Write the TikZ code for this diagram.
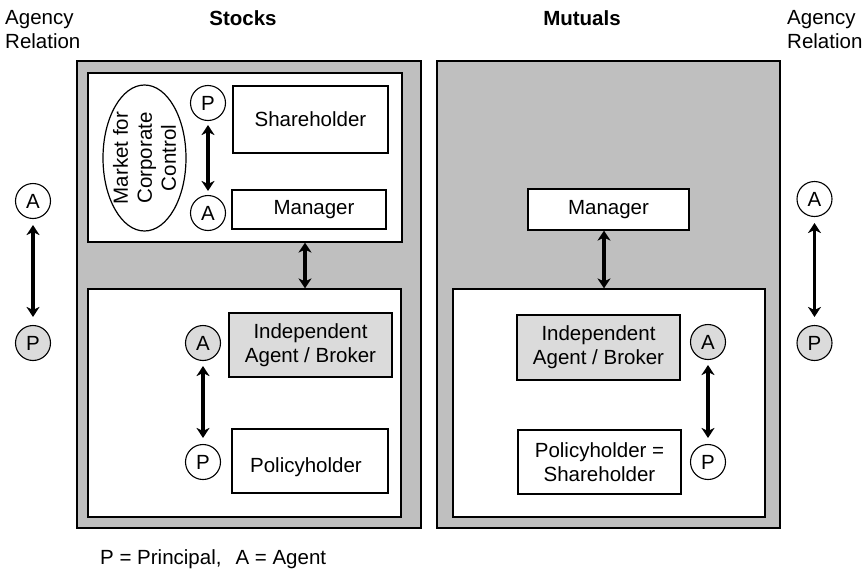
\documentclass[tikz,border=0pt]{standalone}
\usepackage{fontspec}
\setmainfont{Liberation Sans}
\usetikzlibrary{shapes.geometric,arrows.meta}
\definecolor{panelgray}{gray}{0.75}
\definecolor{lightfill}{gray}{0.86}
\tikzset{
  txt/.style={font=\fontsize{20.5}{24}\selectfont},
  panel/.style={draw, line width=1.6pt, fill=panelgray, inner sep=0},
  area/.style={draw, line width=1.2pt, fill=white, inner sep=0},
  box/.style={draw, line width=1.2pt, fill=white, inner sep=0, align=center, txt},
  graybox/.style={box, fill=lightfill},
  role/.style={circle, draw, line width=1.1pt, fill=white, minimum size=35pt, inner sep=0, txt},
  grayrole/.style={role, fill=lightfill},
  tip/.style={Stealth[length=10pt,width=13pt,inset=3pt]},
  rel/.style={line width=3.2pt, {Stealth[length=10pt,width=13pt,inset=3pt]}-{Stealth[length=10pt,width=13pt,inset=3pt]}},
}
\begin{document}
\begin{tikzpicture}[x=1pt,y=-1pt]
\useasboundingbox (0,0) rectangle (863,573);

% headings
\node[txt, align=left, anchor=west, inner sep=0] (agl) at (5,29.5) {Agency\\Relation};
\node[txt, align=left, anchor=west, inner sep=0] (agr) at (787,29.5) {Agency\\Relation};
\node[txt, font=\fontsize{20.5}{24}\selectfont\bfseries, inner sep=0] (hstocks) at (243,18) {Stocks};
\node[txt, font=\fontsize{20.5}{24}\selectfont\bfseries, inner sep=0] (hmutuals) at (582,18) {Mutuals};

% panels
\node[panel, minimum width=344pt, minimum height=467pt] (stocks) at (249,294.5) {};
\node[panel, minimum width=343pt, minimum height=467pt] (mutuals) at (608.5,294.5) {};

% ---- Stocks ----
\node[area, minimum width=314pt, minimum height=169pt] (sup) at (245,157.5) {};
\node[area, minimum width=313pt, minimum height=228pt] (slow) at (244.5,403) {};

\node[ellipse, draw, line width=1.2pt, minimum width=83pt, minimum height=146pt, inner sep=0] (mcc) at (144.5,158) {};
\node[txt, rotate=90, align=center, inner sep=0] (mcctext) at (mcc) {Market for\\Corporate\\Control};

\node[role] (sp) at (208,103) {P};
\node[role] (sa) at (208,213) {A};
\node[box, minimum width=155pt, minimum height=67pt] (sholder) at (310.5,119.5) {Shareholder};
\node[box, minimum width=154pt, minimum height=39pt] (smgr) at (309,209.5) {\hspace{10pt}Manager};
\draw[rel, shorten <=4pt, shorten >=4pt] (sp) -- (sa);

\coordinate (smid) at (305,0);
\draw[rel] (sup.south -| smid) -- (slow.north -| smid);

\node[grayrole] (sba) at (203,343) {A};
\node[role] (sbp) at (203,462) {P};
\node[graybox, minimum width=163pt, minimum height=64pt] (sagent) at (310.5,345) {Independent\\Agent / Broker};
\node[box, minimum width=156pt, minimum height=64pt] (spol) at (310,461) {};
\node[txt, inner sep=0] (spoltext) at (306,467) {Policyholder};
\draw[rel, shorten <=5pt, shorten >=6pt] (sba) -- (sbp);

% ---- Mutuals ----
\node[box, minimum width=161pt, minimum height=41pt] (mmgr) at (608.5,209.5) {Manager};
\node[area, minimum width=312pt, minimum height=228pt] (mlow) at (609,403) {};
\coordinate (mmid) at (604,0);
\draw[rel] (mmgr.south -| mmid) -- (mlow.north -| mmid);

\node[graybox, minimum width=163pt, minimum height=65pt] (magent) at (598.5,347.5) {Independent\\Agent / Broker};
\node[box, minimum width=163pt, minimum height=64pt] (mpol) at (599.5,462) {Policyholder =\\Shareholder};
\node[grayrole] (mba) at (708,342) {A};
\node[role] (mbp) at (708,462) {P};
\draw[rel, shorten <=5pt, shorten >=6pt] (mba) -- (mbp);

% ---- agency relation markers ----
\node[role] (la) at (33,201) {A};
\node[grayrole] (lp) at (33,343) {P};
\draw[rel, shorten <=6pt, shorten >=8pt] (la) -- (lp);

\node[role] (ra) at (814.5,199) {A};
\node[grayrole] (rp) at (814.5,343) {P};
\draw[rel, shorten <=6pt, shorten >=8pt] (ra) -- (rp);

% legend
\node[txt, anchor=west, inner sep=0] (legend) at (100,559) {P = Principal,\hspace{14pt}A = Agent};
\end{tikzpicture}
\end{document}
